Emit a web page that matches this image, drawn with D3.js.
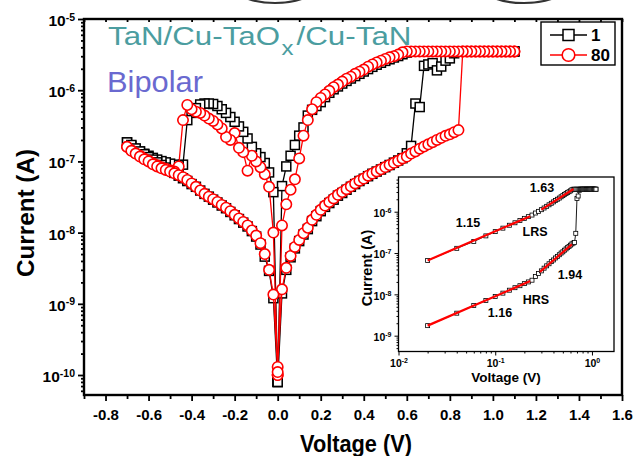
<!DOCTYPE html>
<html>
<head>
<meta charset="utf-8">
<script src="https://cdn.jsdelivr.net/npm/d3@7"></script>
<style>
  body { margin: 0; background: #fff; }
  svg { display: block; font-family: "Liberation Sans", Arial, sans-serif; }
</style>
</head>
<body>
<div id="chart"></div>
<script>
//voltage grid of the sweeps (V)
var vPos = [0, 0.02, 0.04, 0.06, 0.08, 0.10, 0.12, 0.14, 0.16, 0.18, 0.20, 0.22, 0.24, 0.26, 0.28, 0.30,
  0.32, 0.34, 0.36, 0.38, 0.40, 0.42, 0.44, 0.46, 0.48, 0.50, 0.52, 0.54, 0.56, 0.58, 0.60, 0.62, 0.64,
  0.66, 0.68, 0.70, 0.72, 0.74, 0.76, 0.78, 0.80, 0.82, 0.84, 0.86, 0.88, 0.90, 0.92, 0.94, 0.96, 0.98,
  1.00, 1.02, 1.04, 1.06, 1.08, 1.10];
var vNeg = [0, -0.02, -0.04, -0.06, -0.08, -0.10, -0.12, -0.14, -0.16, -0.18, -0.20, -0.22, -0.24, -0.26,
  -0.28, -0.30, -0.32, -0.34, -0.36, -0.38, -0.40, -0.42, -0.44, -0.46, -0.48, -0.50, -0.52, -0.54, -0.56,
  -0.58, -0.60, -0.62, -0.64, -0.66, -0.68, -0.70];

//cycle 1 (A): 0 -> 1.1 V, 1.1 -> 0 V, 0 -> -0.7 V, -0.7 -> 0 V
var c1PosUp = [8e-11, 1.4e-9, 3.0e-9, 4.5e-9, 6.0e-9, 7.6e-9, 9.4e-9, 1.12e-8, 1.45e-8, 1.7e-8, 2.0e-8,
  2.3e-8, 2.6e-8, 2.9e-8, 3.3e-8, 3.6e-8, 4.0e-8, 4.4e-8, 4.8e-8, 5.3e-8, 5.7e-8, 6.2e-8, 6.7e-8, 7.2e-8,
  7.7e-8, 8.3e-8, 8.9e-8, 9.6e-8, 1.03e-7, 1.11e-7, 1.3e-7, 1.65e-7, 6.5e-7, 5.8e-7, 2.2e-6, 2.3e-6,
  2.4e-6, 1.9e-6, 2.15e-6, 2.6e-6, 2.8e-6, 3.3e-6, 3.5e-6, 3.5e-6, 3.5e-6, 3.5e-6, 3.5e-6, 3.5e-6,
  3.5e-6, 3.5e-6, 3.5e-6, 3.5e-6, 3.5e-6, 3.5e-6, 3.5e-6, 3.5e-6];
var c1PosDown = [8e-11, 4.5e-8, 8.5e-8, 1.2e-7, 1.7e-7, 2.3e-7, 3.0e-7, 4.4e-7, 5.3e-7, 6.0e-7, 6.8e-7,
  8.0e-7, 9.2e-7, 1.03e-6, 1.13e-6, 1.24e-6, 1.35e-6, 1.46e-6, 1.58e-6, 1.7e-6, 1.83e-6, 1.98e-6,
  2.13e-6, 2.28e-6, 2.43e-6, 2.58e-6, 2.72e-6, 2.88e-6, 3.02e-6, 3.2e-6, 3.38e-6, 3.5e-6, 3.5e-6,
  3.5e-6, 3.5e-6, 3.5e-6, 3.5e-6, 3.5e-6, 3.5e-6, 3.5e-6, 3.5e-6, 3.5e-6, 3.5e-6, 3.5e-6, 3.5e-6,
  3.5e-6, 3.5e-6, 3.5e-6, 3.5e-6, 3.5e-6, 3.5e-6, 3.5e-6, 3.5e-6, 3.5e-6, 3.5e-6, 3.5e-6];
var c1NegOut = [8e-11, 3.7e-8, 7.0e-8, 9.5e-8, 1.15e-7, 1.3e-7, 1.6e-7, 2.1e-7, 2.6e-7, 3.1e-7, 3.6e-7,
  4.2e-7, 4.8e-7, 5.4e-7, 6.0e-7, 6.4e-7, 6.5e-7, 6.5e-7, 6.3e-7, 5.6e-7, 4.8e-7, 3.8e-7, 9.0e-8,
  8.8e-8, 9.0e-8, 9.3e-8, 9.7e-8, 1.01e-7, 1.06e-7, 1.12e-7, 1.2e-7, 1.28e-7, 1.38e-7, 1.5e-7, 1.65e-7,
  1.85e-7];
var c1NegBack = [8e-11, 1.2e-9, 2.9e-9, 4.6e-9, 6.8e-9, 8.8e-9, 1.05e-8, 1.22e-8, 1.38e-8, 1.55e-8,
  1.75e-8, 1.95e-8, 2.2e-8, 2.4e-8, 2.65e-8, 2.9e-8, 3.2e-8, 3.5e-8, 3.9e-8, 4.4e-8, 4.8e-8, 5.3e-8,
  5.8e-8, 6.3e-8, 6.9e-8, 7.5e-8, 8.2e-8, 8.9e-8, 9.7e-8, 1.06e-7, 1.15e-7, 1.26e-7, 1.38e-7, 1.52e-7,
  1.7e-7, 1.85e-7];

//cycle 80 (A)
var c80PosUp = [1.3e-10, 1.6e-9, 3.2e-9, 4.7e-9, 6.3e-9, 7.9e-9, 9.8e-9, 1.17e-8, 1.51e-8, 1.78e-8,
  2.09e-8, 2.40e-8, 2.69e-8, 3.02e-8, 3.39e-8, 3.72e-8, 4.07e-8, 4.47e-8, 4.90e-8, 5.37e-8, 5.75e-8,
  6.31e-8, 6.76e-8, 7.24e-8, 7.76e-8, 8.32e-8, 8.91e-8, 9.55e-8, 1.02e-7, 1.10e-7, 1.17e-7, 1.29e-7,
  1.38e-7, 1.51e-7, 1.62e-7, 1.74e-7, 1.86e-7, 2.00e-7, 2.14e-7, 2.29e-7, 2.40e-7, 2.57e-7, 2.75e-7,
  3.5e-6, 3.5e-6, 3.5e-6, 3.5e-6, 3.5e-6, 3.5e-6, 3.5e-6, 3.5e-6, 3.5e-6, 3.5e-6, 3.5e-6, 3.5e-6, 3.5e-6];
var c80PosDown = [1.0e-10, 1.26e-8, 2.5e-8, 4.0e-8, 5.6e-8, 1.1e-7, 2.3e-7, 3.8e-7, 5.4e-7, 6.8e-7,
  7.8e-7, 8.7e-7, 9.8e-7, 1.1e-6, 1.2e-6, 1.32e-6, 1.45e-6, 1.55e-6, 1.7e-6, 1.82e-6, 1.95e-6, 2.14e-6,
  2.3e-6, 2.45e-6, 2.6e-6, 2.75e-6, 2.9e-6, 3.0e-6, 3.16e-6, 3.4e-6, 3.5e-6, 3.5e-6, 3.5e-6, 3.5e-6,
  3.5e-6, 3.5e-6, 3.5e-6, 3.5e-6, 3.5e-6, 3.5e-6, 3.5e-6, 3.5e-6, 3.5e-6, 3.5e-6, 3.5e-6, 3.5e-6,
  3.5e-6, 3.5e-6, 3.5e-6, 3.5e-6, 3.5e-6, 3.5e-6, 3.5e-6, 3.5e-6, 3.5e-6, 3.5e-6];
var c80NegOut = [1.0e-10, 1.0e-8, 4.4e-8, 6.6e-8, 8.3e-8, 1.0e-7, 1.2e-7, 7.4e-8, 1.35e-7, 1.55e-7,
  2.5e-7, 2.0e-7, 2.2e-7, 2.9e-7, 3.3e-7, 3.7e-7, 4.0e-7, 4.4e-7, 4.8e-7, 5.0e-7, 5.4e-7, 6.2e-7,
  3.8e-7, 8.5e-8, 7.2e-8, 7.5e-8, 7.9e-8, 8.3e-8, 8.8e-8, 9.4e-8, 1.02e-7, 1.1e-7, 1.2e-7, 1.3e-7,
  1.43e-7, 1.6e-7];
var c80NegBack = [1.1e-10, 1.35e-9, 3.0e-9, 5.0e-9, 7.1e-9, 9.1e-9, 1.07e-8, 1.26e-8, 1.41e-8, 1.58e-8,
  1.78e-8, 2.0e-8, 2.24e-8, 2.45e-8, 2.7e-8, 2.95e-8, 3.2e-8, 3.5e-8, 3.9e-8, 4.4e-8, 4.9e-8, 5.5e-8,
  6.0e-8, 6.4e-8, 6.8e-8, 7.2e-8, 7.6e-8, 8.0e-8, 8.5e-8, 9.1e-8, 1.0e-7, 1.07e-7, 1.17e-7, 1.29e-7,
  1.41e-7, 1.6e-7];

//inset: positive branches on log-log axes (V 0.02 -> 1.1)
var insetV = [0.02, 0.04, 0.06, 0.08, 0.10, 0.12, 0.14, 0.16, 0.18, 0.20, 0.22, 0.24, 0.26, 0.28, 0.30,
  0.32, 0.34, 0.36, 0.38, 0.40, 0.42, 0.44, 0.46, 0.48, 0.50, 0.52, 0.54, 0.56, 0.58, 0.60, 0.62, 0.64,
  0.66, 0.68, 0.70, 0.72, 0.74, 0.76, 0.78, 0.80, 0.82, 0.84, 0.86, 0.88, 0.90, 0.92, 0.94, 0.96, 0.98,
  1.00, 1.02, 1.04, 1.06, 1.08, 1.10];
var insetLRS = [6.6e-8, 1.3e-7, 1.9e-7, 2.6e-7, 3.3e-7, 4.0e-7, 4.7e-7, 5.4e-7, 6.1e-7, 6.9e-7, 7.6e-7,
  8.3e-7, 9.3e-7, 1.02e-6, 1.12e-6, 1.23e-6, 1.35e-6, 1.47e-6, 1.6e-6, 1.73e-6, 1.86e-6, 2.0e-6, 2.14e-6,
  2.3e-6, 2.45e-6, 2.6e-6, 2.75e-6, 2.9e-6, 3.05e-6, 3.2e-6, 3.4e-6, 3.5e-6, 3.5e-6, 3.5e-6, 3.5e-6,
  3.5e-6, 3.5e-6, 3.5e-6, 3.5e-6, 3.5e-6, 3.5e-6, 3.5e-6, 3.5e-6, 3.5e-6, 3.5e-6, 3.5e-6, 3.5e-6,
  3.5e-6, 3.5e-6, 3.5e-6, 3.5e-6, 3.5e-6, 3.5e-6, 3.5e-6, 3.5e-6];
var insetHRS = [1.75e-9, 3.5e-9, 5.4e-9, 7.1e-9, 8.9e-9, 1.07e-8, 1.26e-8, 1.45e-8, 1.62e-8, 1.82e-8,
  2.0e-8, 2.2e-8, 2.7e-8, 3.2e-8, 3.7e-8, 4.3e-8, 4.9e-8, 5.5e-8, 6.2e-8, 6.8e-8, 7.6e-8, 8.3e-8, 9.1e-8,
  1.0e-7, 1.07e-7, 1.17e-7, 1.26e-7, 1.35e-7, 1.45e-7, 1.55e-7, 1.66e-7, 1.74e-7, 1.8e-7, 3.0e-7,
  2.1e-6, 2.4e-6, 3.3e-6, 3.5e-6, 3.5e-6, 3.5e-6, 3.5e-6, 3.5e-6, 3.5e-6, 3.5e-6, 3.5e-6, 3.5e-6,
  3.5e-6, 3.5e-6, 3.5e-6, 3.5e-6, 3.5e-6, 3.5e-6, 3.5e-6, 3.5e-6, 3.5e-6];

//inset power-law fits: start/end voltage, start/end current, slope label
var fitV0 = [0.02, 0.30, 0.02, 0.29];
var fitV1 = [0.23, 0.645, 0.23, 0.62];
var fitI0 = [6.6e-8, 1.12e-6, 1.75e-9, 3.5e-8];
var fitI1 = [7.8e-7, 3.55e-6, 2.1e-8, 1.62e-7];
var fitLabels = ["1.15", "1.63", "1.16", "1.94"];

//tick values
var xMajor = [-0.8, -0.6, -0.4, -0.2, 0, 0.2, 0.4, 0.6, 0.8, 1.0, 1.2, 1.4, 1.6];
var xMinor = [-0.9, -0.7, -0.5, -0.3, -0.1, 0.1, 0.3, 0.5, 0.7, 0.9, 1.1, 1.3, 1.5];
var yMajor = [1e-10, 1e-9, 1e-8, 1e-7, 1e-6, 1e-5];
var insetXMajor = [0.01, 0.1, 1];
var insetYMajor = [1e-9, 1e-8, 1e-7, 1e-6];

var seriesNames = ["1", "80"];

var drawChart = function() {
  var width = 633;
  var height = 456;

  var svg = d3
    .select("#chart")
    .append("svg")
    .attr("width", width)
    .attr("height", height);

  //cut-off ovals at the very top of the picture
  svg.append("ellipse").attr("cx", 275).attr("cy", -13).attr("rx", 40).attr("ry", 16)
    .attr("fill", "none").attr("stroke", "#333").attr("stroke-width", 2.2);
  svg.append("ellipse").attr("cx", 524).attr("cy", -13).attr("rx", 41).attr("ry", 16)
    .attr("fill", "none").attr("stroke", "#333").attr("stroke-width", 2.2);

  //main plot box
  var plot = { left: 84, right: 622, top: 19, bottom: 395 };

  var xScale = d3.scaleLinear().domain([-0.9, 1.6]).range([plot.left, plot.right]);
  var yScale = d3.scaleLog().domain([5.24e-11, 1e-5]).range([plot.bottom, plot.top]);

  //minor log ticks
  var minorLog = function(majors, domain) {
    var out = [];
    [majors[0] / 10].concat(majors).forEach(function(m) {
      for (var k = 2; k < 10; k++) {
        var v = m * k;
        if (v >= domain[0] && v <= domain[1]) out.push(v);
      }
    });
    return out;
  };

  //superscript labels 10^n
  var powerLabel = function(sel, baseSize, supSize, supShift) {
    sel.each(function(d) {
      var t = d3.select(this);
      t.text(null);
      t.append("tspan").text("10");
      t.append("tspan")
        .attr("dy", supShift)
        .style("font-size", supSize + "px")
        .text(Math.round(Math.log10(d)));
    });
    sel.style("font-size", baseSize + "px");
  };

  //x axis bottom
  svg.append("g")
    .attr("transform", "translate(0," + plot.bottom + ")")
    .call(d3.axisBottom(xScale).tickValues(xMinor).tickFormat("").tickSizeInner(4).tickSizeOuter(0));
  var xAxisG = svg.append("g")
    .attr("transform", "translate(0," + plot.bottom + ")")
    .call(d3.axisBottom(xScale).tickValues(xMajor)
      .tickFormat(function(d) { return d.toFixed(1); })
      .tickSizeInner(6).tickSizeOuter(0).tickPadding(8));
  xAxisG.selectAll("text")
    .style("font-size", "15px").style("font-weight", "bold").attr("fill", "#000");

  //x axis top (inward ticks)
  svg.append("g")
    .attr("transform", "translate(0," + plot.top + ")")
    .call(d3.axisTop(xScale).tickValues(xMajor.concat(xMinor)).tickFormat("").tickSizeInner(-3).tickSizeOuter(0));

  //y axis left
  svg.append("g")
    .attr("transform", "translate(" + plot.left + ",0)")
    .call(d3.axisLeft(yScale).tickValues(minorLog(yMajor, yScale.domain())).tickFormat("").tickSizeInner(3).tickSizeOuter(0));
  var yAxisG = svg.append("g")
    .attr("transform", "translate(" + plot.left + ",0)")
    .call(d3.axisLeft(yScale).tickValues(yMajor).tickSizeInner(6).tickSizeOuter(0).tickPadding(3));
  yAxisG.selectAll("text")
    .style("font-weight", "bold").attr("fill", "#000").attr("dy", "0.42em");
  powerLabel(yAxisG.selectAll("text"), 15.5, 10.5, -5.5);

  svg.selectAll(".domain").remove();
  svg.selectAll(".tick line").attr("stroke", "#000").attr("stroke-width", 1.8);

  //plot frame
  svg.append("rect")
    .attr("x", plot.left).attr("y", plot.top)
    .attr("width", plot.right - plot.left).attr("height", plot.bottom - plot.top)
    .attr("fill", "none").attr("stroke", "#000").attr("stroke-width", 2.4);

  //axis titles
  svg.append("text")
    .attr("x", (plot.left + plot.right) / 2 + 3).attr("y", 452)
    .attr("text-anchor", "middle")
    .attr("textLength", 112).attr("lengthAdjust", "spacingAndGlyphs")
    .style("font-size", "24px").style("font-weight", "bold")
    .text("Voltage (V)");
  svg.append("text")
    .attr("transform", "translate(34,213) rotate(-90)")
    .attr("text-anchor", "middle")
    .attr("textLength", 128).attr("lengthAdjust", "spacingAndGlyphs")
    .style("font-size", "24px").style("font-weight", "bold")
    .text("Current (A)");

  //annotation text
  var title = svg.append("g").attr("fill", "#4b9da0");
  title.append("text").attr("x", 108).attr("y", 45).attr("textLength", 172)
    .attr("lengthAdjust", "spacingAndGlyphs").style("font-size", "26px").text("TaN/Cu-TaO");
  title.append("text").attr("x", 281.5).attr("y", 55).attr("textLength", 12)
    .attr("lengthAdjust", "spacingAndGlyphs").style("font-size", "21px").text("x");
  title.append("text").attr("x", 296.5).attr("y", 45).attr("textLength", 115)
    .attr("lengthAdjust", "spacingAndGlyphs").style("font-size", "26px").text("/Cu-TaN");
  svg.append("text").attr("x", 107).attr("y", 92).attr("fill", "#6a69d0")
    .attr("textLength", 96).attr("lengthAdjust", "spacingAndGlyphs")
    .style("font-size", "29px").text("Bipolar");

  //build full sweep for one cycle
  var sweep = function(posUp, posDown, negOut, negBack) {
    var pts = [];
    var i;
    for (i = 0; i < vPos.length; i++) pts.push([vPos[i], posUp[i]]);
    for (i = vPos.length - 1; i >= 0; i--) pts.push([vPos[i], posDown[i]]);
    for (i = 0; i < vNeg.length; i++) pts.push([vNeg[i], negOut[i]]);
    for (i = vNeg.length - 1; i >= 0; i--) pts.push([vNeg[i], negBack[i]]);
    return pts;
  };
  var cycle1 = sweep(c1PosUp, c1PosDown, c1NegOut, c1NegBack);
  var cycle80 = sweep(c80PosUp, c80PosDown, c80NegOut, c80NegBack);

  var line = d3.line()
    .x(function(d) { return xScale(d[0]); })
    .y(function(d) { return yScale(d[1]); });

  //cycle 1: black squares
  svg.append("path").datum(cycle1).attr("d", line)
    .attr("fill", "none").attr("stroke", "#000").attr("stroke-width", 1.3);
  var sq = 9;
  svg.append("g").selectAll("rect").data(cycle1).enter().append("rect")
    .attr("x", function(d) { return xScale(d[0]) - sq / 2; })
    .attr("y", function(d) { return yScale(d[1]) - sq / 2; })
    .attr("width", sq).attr("height", sq)
    .attr("fill", "#fff").attr("stroke", "#000").attr("stroke-width", 1.5);

  //cycle 80: red circles
  svg.append("path").datum(cycle80).attr("d", line)
    .attr("fill", "none").attr("stroke", "#f00").attr("stroke-width", 1.3);
  svg.append("g").selectAll("circle").data(cycle80).enter().append("circle")
    .attr("cx", function(d) { return xScale(d[0]); })
    .attr("cy", function(d) { return yScale(d[1]); })
    .attr("r", 5.2)
    .attr("fill", "#fff").attr("stroke", "#f00").attr("stroke-width", 1.6);

  //legend
  var legend = svg.append("g");
  legend.append("rect").attr("x", 541).attr("y", 22).attr("width", 74).attr("height", 43)
    .attr("fill", "#fff").attr("stroke", "#000").attr("stroke-width", 1.4);
  var rowY = [35, 55];
  var rowColor = ["#000", "#f00"];
  seriesNames.forEach(function(name, i) {
    legend.append("line").attr("x1", 550).attr("x2", 587).attr("y1", rowY[i]).attr("y2", rowY[i])
      .attr("stroke", rowColor[i]).attr("stroke-width", 1.3);
    if (i === 0) {
      legend.append("rect").attr("x", 563).attr("y", rowY[i] - 5.5).attr("width", 11).attr("height", 11)
        .attr("fill", "#fff").attr("stroke", "#000").attr("stroke-width", 1.5);
    } else {
      legend.append("circle").attr("cx", 568.5).attr("cy", rowY[i]).attr("r", 6.3)
        .attr("fill", "#fff").attr("stroke", "#f00").attr("stroke-width", 1.6);
    }
    legend.append("text").attr("x", 591).attr("y", rowY[i] + 6)
      .style("font-size", "17px").style("font-weight", "bold").text(name);
  });

  //inset
  var inset = { left: 398.5, right: 614, top: 177, bottom: 351.5 };
  var ixScale = d3.scaleLog().domain([0.01, 1.69]).range([inset.left, inset.right]);
  var iyScale = d3.scaleLog().domain([4.14e-10, 6.92e-6]).range([inset.bottom, inset.top]);

  svg.append("rect")
    .attr("x", inset.left).attr("y", inset.top)
    .attr("width", inset.right - inset.left).attr("height", inset.bottom - inset.top)
    .attr("fill", "#fff");

  var ig = svg.append("g");
  ig.append("g").attr("transform", "translate(0," + inset.bottom + ")")
    .call(d3.axisBottom(ixScale).tickValues(minorLog(insetXMajor, ixScale.domain())).tickFormat("").tickSizeInner(2).tickSizeOuter(0));
  var ixAxis = ig.append("g").attr("transform", "translate(0," + inset.bottom + ")")
    .call(d3.axisBottom(ixScale).tickValues(insetXMajor).tickSizeInner(4).tickSizeOuter(0).tickPadding(4));
  ixAxis.selectAll("text").style("font-weight", "bold").attr("fill", "#000");
  powerLabel(ixAxis.selectAll("text"), 10.5, 7, -4);

  ig.append("g").attr("transform", "translate(" + inset.left + ",0)")
    .call(d3.axisLeft(iyScale).tickValues(minorLog(insetYMajor, iyScale.domain())).tickFormat("").tickSizeInner(2).tickSizeOuter(0));
  var iyAxis = ig.append("g").attr("transform", "translate(" + inset.left + ",0)")
    .call(d3.axisLeft(iyScale).tickValues(insetYMajor).tickSizeInner(4).tickSizeOuter(0).tickPadding(3));
  iyAxis.selectAll("text").style("font-weight", "bold").attr("fill", "#000").attr("dy", "0.45em");
  powerLabel(iyAxis.selectAll("text"), 10.5, 7, -4);

  ig.selectAll(".domain").remove();
  ig.selectAll(".tick line").attr("stroke", "#000").attr("stroke-width", 1);

  ig.append("rect")
    .attr("x", inset.left).attr("y", inset.top)
    .attr("width", inset.right - inset.left).attr("height", inset.bottom - inset.top)
    .attr("fill", "none").attr("stroke", "#000").attr("stroke-width", 1.3);

  ig.append("text").attr("x", 506).attr("y", 382).attr("text-anchor", "middle")
    .style("font-size", "13.5px").style("font-weight", "bold").text("Voltage (V)");
  ig.append("text").attr("transform", "translate(372,268) rotate(-90)").attr("text-anchor", "middle")
    .style("font-size", "14.5px").style("font-weight", "bold").text("Current (A)");

  var iline = d3.line()
    .x(function(d) { return ixScale(d[0]); })
    .y(function(d) { return iyScale(d[1]); });
  [insetHRS, insetLRS].forEach(function(arr) {
    var pts = insetV.map(function(v, i) { return [v, arr[i]]; });
    ig.append("path").datum(pts).attr("d", iline)
      .attr("fill", "none").attr("stroke", "#000").attr("stroke-width", 0.9);
    ig.append("g").selectAll("rect").data(pts).enter().append("rect")
      .attr("x", function(d) { return ixScale(d[0]) - 2; })
      .attr("y", function(d) { return iyScale(d[1]) - 2; })
      .attr("width", 4).attr("height", 4)
      .attr("fill", "#fff").attr("stroke", "#000").attr("stroke-width", 0.8);
  });

  //red fit lines
  fitV0.forEach(function(v0, i) {
    ig.append("line")
      .attr("x1", ixScale(v0)).attr("y1", iyScale(fitI0[i]))
      .attr("x2", ixScale(fitV1[i])).attr("y2", iyScale(fitI1[i]))
      .attr("stroke", "#f00").attr("stroke-width", 2.2);
  });

  //fit slope labels and state labels
  var labelPos = [[468, 227], [542, 192], [500, 317], [570, 279]];
  fitLabels.forEach(function(t, i) {
    ig.append("text").attr("x", labelPos[i][0]).attr("y", labelPos[i][1]).attr("text-anchor", "middle")
      .style("font-size", "12.5px").style("font-weight", "bold").text(t);
  });
  ig.append("text").attr("x", 535).attr("y", 236).attr("text-anchor", "middle")
    .style("font-size", "12.5px").style("font-weight", "bold").text("LRS");
  ig.append("text").attr("x", 536).attr("y", 304).attr("text-anchor", "middle")
    .style("font-size", "12.5px").style("font-weight", "bold").text("HRS");
};

drawChart();
</script>
</body>
</html>
